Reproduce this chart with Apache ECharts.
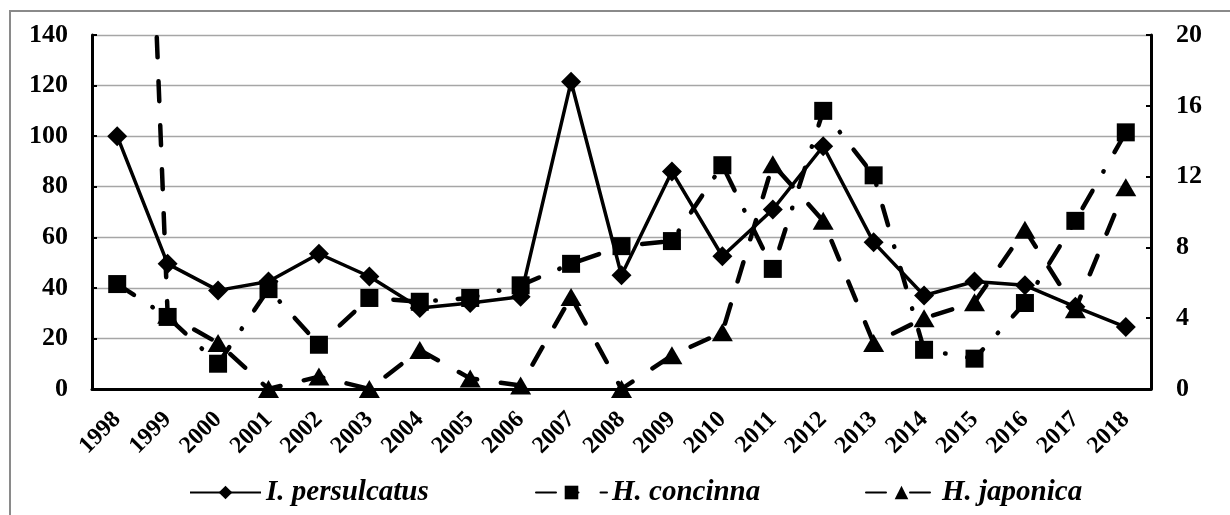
<!DOCTYPE html>
<html>
<head>
<meta charset="utf-8">
<script src="https://cdn.jsdelivr.net/npm/echarts@6/dist/echarts.min.js"></script>
<style>
html,body{margin:0;padding:0;background:#fff;}
#chart{width:1230px;height:515px;}
</style>
</head>
<body>
<div id="chart"></div>
<script>
const years = ['1998','1999','2000','2001','2002','2003','2004','2005','2006','2007','2008','2009','2010','2011','2012','2013','2014','2015','2016','2017','2018'];
const persulcatus = [100, 49.5, 39, 42.5, 53.5, 44.5, 32, 34, 36.5, 121.5, 45, 86, 52.5, 71, 96, 58, 37, 42.5, 41, 32.5, 24.5];
const concinna = [41.5, 28.5, 10, 39.5, 17.5, 36, 34.5, 36, 41, 49.5, 56.5, 58.5, 88.5, 47.5, 110, 84.5, 15.5, 12, 34, 66.5, 101.5];
const japonica = [77, 4.2, 2.6, 0, 0.7, 0, 2.2, 0.6, 0.2, 5.2, 0, 1.9, 3.2, 12.7, 9.5, 2.6, 4.0, 4.9, 9.0, 4.5, 11.4];
const leftTicks = {min: 0, max: 140, interval: 20};
const rightTicks = {min: 0, max: 20, interval: 4};
const names = ['I. persulcatus', 'H. concinna', 'H. japonica'];

const FONT = 'Liberation Serif';
const chart = echarts.init(document.getElementById('chart'), null, {renderer: 'canvas'});
const axisLabelStyle = {color: '#000', fontFamily: FONT, fontWeight: 'bold', fontSize: 26};
const legendText = {color: '#000', fontFamily: FONT, fontWeight: 'bold', fontStyle: 'italic', fontSize: 29};
const legendLefts = [184, 530, 860];

chart.setOption({
  animation: false,
  backgroundColor: '#fff',
  graphic: [{
    type: 'rect', silent: true, z: -10,
    shape: {x: 10, y: 11, width: 1500, height: 900},
    style: {fill: 'none', stroke: '#8a8a8a', lineWidth: 2}
  }],
  grid: {left: 92, right: 79, top: 35, bottom: 126, containLabel: false},
  legend: names.map((n, i) => ({
    data: [n],
    left: legendLefts[i], top: 473,
    itemWidth: 71, itemHeight: 17, itemGap: 0,
    textStyle: legendText
  })),
  xAxis: {
    type: 'category', data: years, boundaryGap: true,
    axisLine: {lineStyle: {color: '#000', width: 3}},
    axisTick: {inside: true, alignWithLabel: true, length: 5, lineStyle: {color: '#000', width: 2}},
    axisLabel: Object.assign({}, axisLabelStyle, {rotate: 45, margin: 27, interval: 0, fontSize: 24}),
    splitLine: {show: false}
  },
  yAxis: [{
    type: 'value', position: 'left',
    min: leftTicks.min, max: leftTicks.max, interval: leftTicks.interval,
    axisLine: {show: true, lineStyle: {color: '#000', width: 3}},
    axisTick: {show: true, inside: true, length: 5, lineStyle: {color: '#000', width: 2}},
    axisLabel: Object.assign({margin: 24}, axisLabelStyle),
    splitLine: {show: true, lineStyle: {color: '#a6a6a6', width: 1.3}}
  }, {
    type: 'value', position: 'right',
    min: rightTicks.min, max: rightTicks.max, interval: rightTicks.interval,
    axisLine: {show: true, lineStyle: {color: '#000', width: 3}},
    axisTick: {show: true, inside: true, length: 5, lineStyle: {color: '#000', width: 2}},
    axisLabel: Object.assign({margin: 25}, axisLabelStyle),
    splitLine: {show: false}
  }],
  series: [{
    name: names[0], type: 'line', yAxisIndex: 0, data: persulcatus,
    symbol: 'diamond', symbolSize: 20, showAllSymbol: true,
    itemStyle: {color: '#000'},
    lineStyle: {color: '#000', width: 3.5, type: 'solid'},
    z: 3
  }, {
    name: names[2], type: 'line', yAxisIndex: 1, data: japonica,
    symbol: 'triangle', symbolSize: [21, 18], showAllSymbol: true,
    itemStyle: {color: '#000'},
    lineStyle: {color: '#000', width: 4.5, type: [20, 24], cap: 'round'},
    z: 2
  }, {
    name: names[1], type: 'line', yAxisIndex: 0, data: concinna,
    symbol: 'rect', symbolSize: 18, showAllSymbol: true,
    itemStyle: {color: '#000'},
    lineStyle: {color: '#000', width: 4.5, type: [20, 22, 0.5, 22], cap: 'round'},
    z: 2
  }]
});
</script>
</body>
</html>
